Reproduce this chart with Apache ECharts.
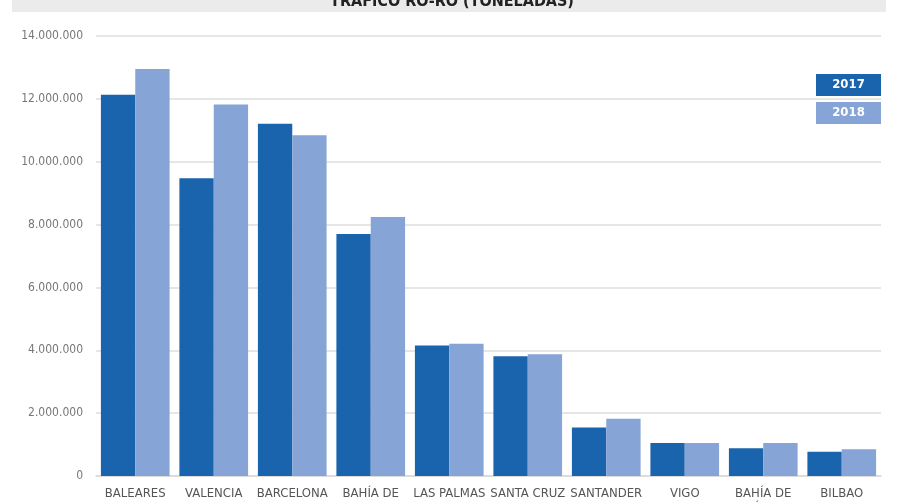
<!DOCTYPE html>
<html>
<head>
<meta charset="utf-8">
<script src="https://cdn.jsdelivr.net/npm/echarts@6/dist/echarts.min.js"></script>
<style>
    html, body { margin: 0; padding: 0; background: #fff; }
    #main { width: 900px; height: 502px; }
</style>
</head>
<body>
<div id="main"></div>
<script>
    // Tráfico Ro-Ro por puerto (toneladas)
    var puertos = ['BALEARES', 'VALENCIA', 'BARCELONA', 'BAHÍA DE\nALGECIRAS', 'LAS PALMAS',
        'SANTA CRUZ\nDE TENERIFE', 'SANTANDER', 'VIGO', 'BAHÍA DE\nCÁDIZ', 'BILBAO'];
    var anios = ['2017', '2018'];
    var datos2017 = [12130000, 9470000, 11210000, 7700000, 4150000, 3810000, 1540000, 1050000, 880000, 770000];
    var datos2018 = [12950000, 11820000, 10840000, 8240000, 4210000, 3870000, 1820000, 1050000, 1050000, 850000];
    var ticksY = [0, 2000000, 4000000, 6000000, 8000000, 10000000, 12000000, 14000000];

    var colores = ['#1a63ad', '#86a4d5'],
        fuente = "'Liberation Sans Narrow', 'DejaVu Sans Condensed', 'Roboto', sans-serif";

    function miles(v) {
        // 14000000 -> 14.000.000
        return String(v).replace(/\B(?=(\d{3})+(?!\d))/g, '.');
    }

    var chart = echarts.init(document.getElementById('main'));

    var option = {
        animation: false,
        textStyle: { fontFamily: fuente },
        grid: { left: 96, right: 19, top: 36, bottom: 26, containLabel: false, outerBoundsMode: 'none' },
        xAxis: {
            type: 'category',
            data: puertos,
            axisTick: { show: false },
            axisLine: { lineStyle: { color: '#d9d9d9', width: 1.5 } },
            axisLabel: { color: '#555', fontSize: 13, margin: 10, lineHeight: 15, interval: 0, fontFamily: fuente }
        },
        yAxis: {
            type: 'value',
            min: ticksY[0],
            max: ticksY[ticksY.length - 1],
            interval: ticksY[1] - ticksY[0],
            axisLine: { show: false },
            axisTick: { show: false },
            splitLine: { lineStyle: { color: '#dedede', width: 1.5 } },
            axisLabel: { color: '#777', fontSize: 12, margin: 13, fontFamily: fuente, formatter: miles }
        },
        series: [{
            name: anios[0],
            type: 'bar',
            data: datos2017,
            barGap: '0%',
            barCategoryGap: '12.5%',
            itemStyle: { color: colores[0] }
        }, {
            name: anios[1],
            type: 'bar',
            data: datos2018,
            itemStyle: { color: colores[1] }
        }],
        graphic: [
            // banda del título (cortada arriba)
            { type: 'rect', left: 12, top: 0, shape: { width: 874, height: 12 }, style: { fill: '#ebebeb' }, z: 1 },
            { type: 'text', x: 452, y: 2, z: 2, style: { text: 'TRÁFICO RO-RO (TONELADAS)', fill: '#222', font: "bold 16px " + fuente, align: 'center', verticalAlign: 'middle' } },
            // leyenda
            { type: 'rect', left: 816, top: 74, shape: { width: 65, height: 22 }, style: { fill: colores[0] } },
            { type: 'text', x: 848.5, y: 85, style: { text: anios[0], fill: '#fff', font: "bold 13px " + fuente, align: 'center', verticalAlign: 'middle' } },
            { type: 'rect', left: 816, top: 102, shape: { width: 65, height: 22 }, style: { fill: colores[1] } },
            { type: 'text', x: 848.5, y: 113, style: { text: anios[1], fill: '#fff', font: "bold 13px " + fuente, align: 'center', verticalAlign: 'middle' } }
        ]
    };

    chart.setOption(option);
</script>
</body>
</html>
